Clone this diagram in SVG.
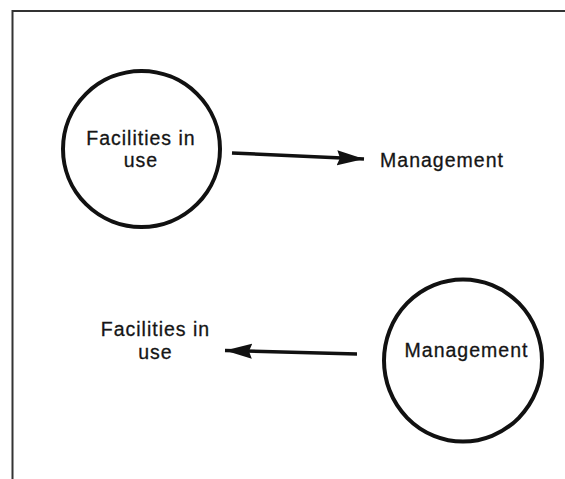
<svg xmlns="http://www.w3.org/2000/svg" width="565" height="479" viewBox="0 0 565 479">
<style>
.node{fill:none;stroke:#111;stroke-width:4}
.lbl{font-family:"Liberation Sans",Arial,sans-serif;font-size:19.5px;letter-spacing:1px;fill:#151515;stroke:#151515;stroke-width:0.3;text-anchor:middle}
.edge{fill:none;stroke:#111;stroke-width:3.5}
.frame{fill:none;stroke:#333;stroke-width:2}
</style>
<defs>
<marker id="ah" markerUnits="userSpaceOnUse" markerWidth="28" markerHeight="16" viewBox="0 0 28 16" refX="27" refY="8" orient="auto">
<path d="M0,0.5 L27,8 L0,15.5 L3,8 Z" fill="#111"/>
</marker>
</defs>
<path class="frame" d="M12.5,479 L12.5,11 L565,11"/>
<g id="node-facilities-1">
<ellipse class="node" cx="141.5" cy="149" rx="78.5" ry="78"/>
<text class="lbl" x="141" y="145">Facilities in</text>
<text class="lbl" x="141" y="167">use</text>
</g>
<g id="node-management-1">
<text class="lbl" x="442" y="167">Management</text>
</g>
<g id="node-facilities-2">
<text class="lbl" x="155.5" y="336">Facilities in</text>
<text class="lbl" x="155.5" y="359">use</text>
</g>
<g id="node-management-2">
<ellipse class="node" cx="463" cy="360.5" rx="79" ry="81"/>
<text class="lbl" x="466.5" y="357">Management</text>
</g>
<g id="connectors">
<path class="edge" d="M232,153 L364,159" marker-end="url(#ah)"/>
<path class="edge" d="M357,354 L225,350.5" marker-end="url(#ah)"/>
</g>
</svg>
